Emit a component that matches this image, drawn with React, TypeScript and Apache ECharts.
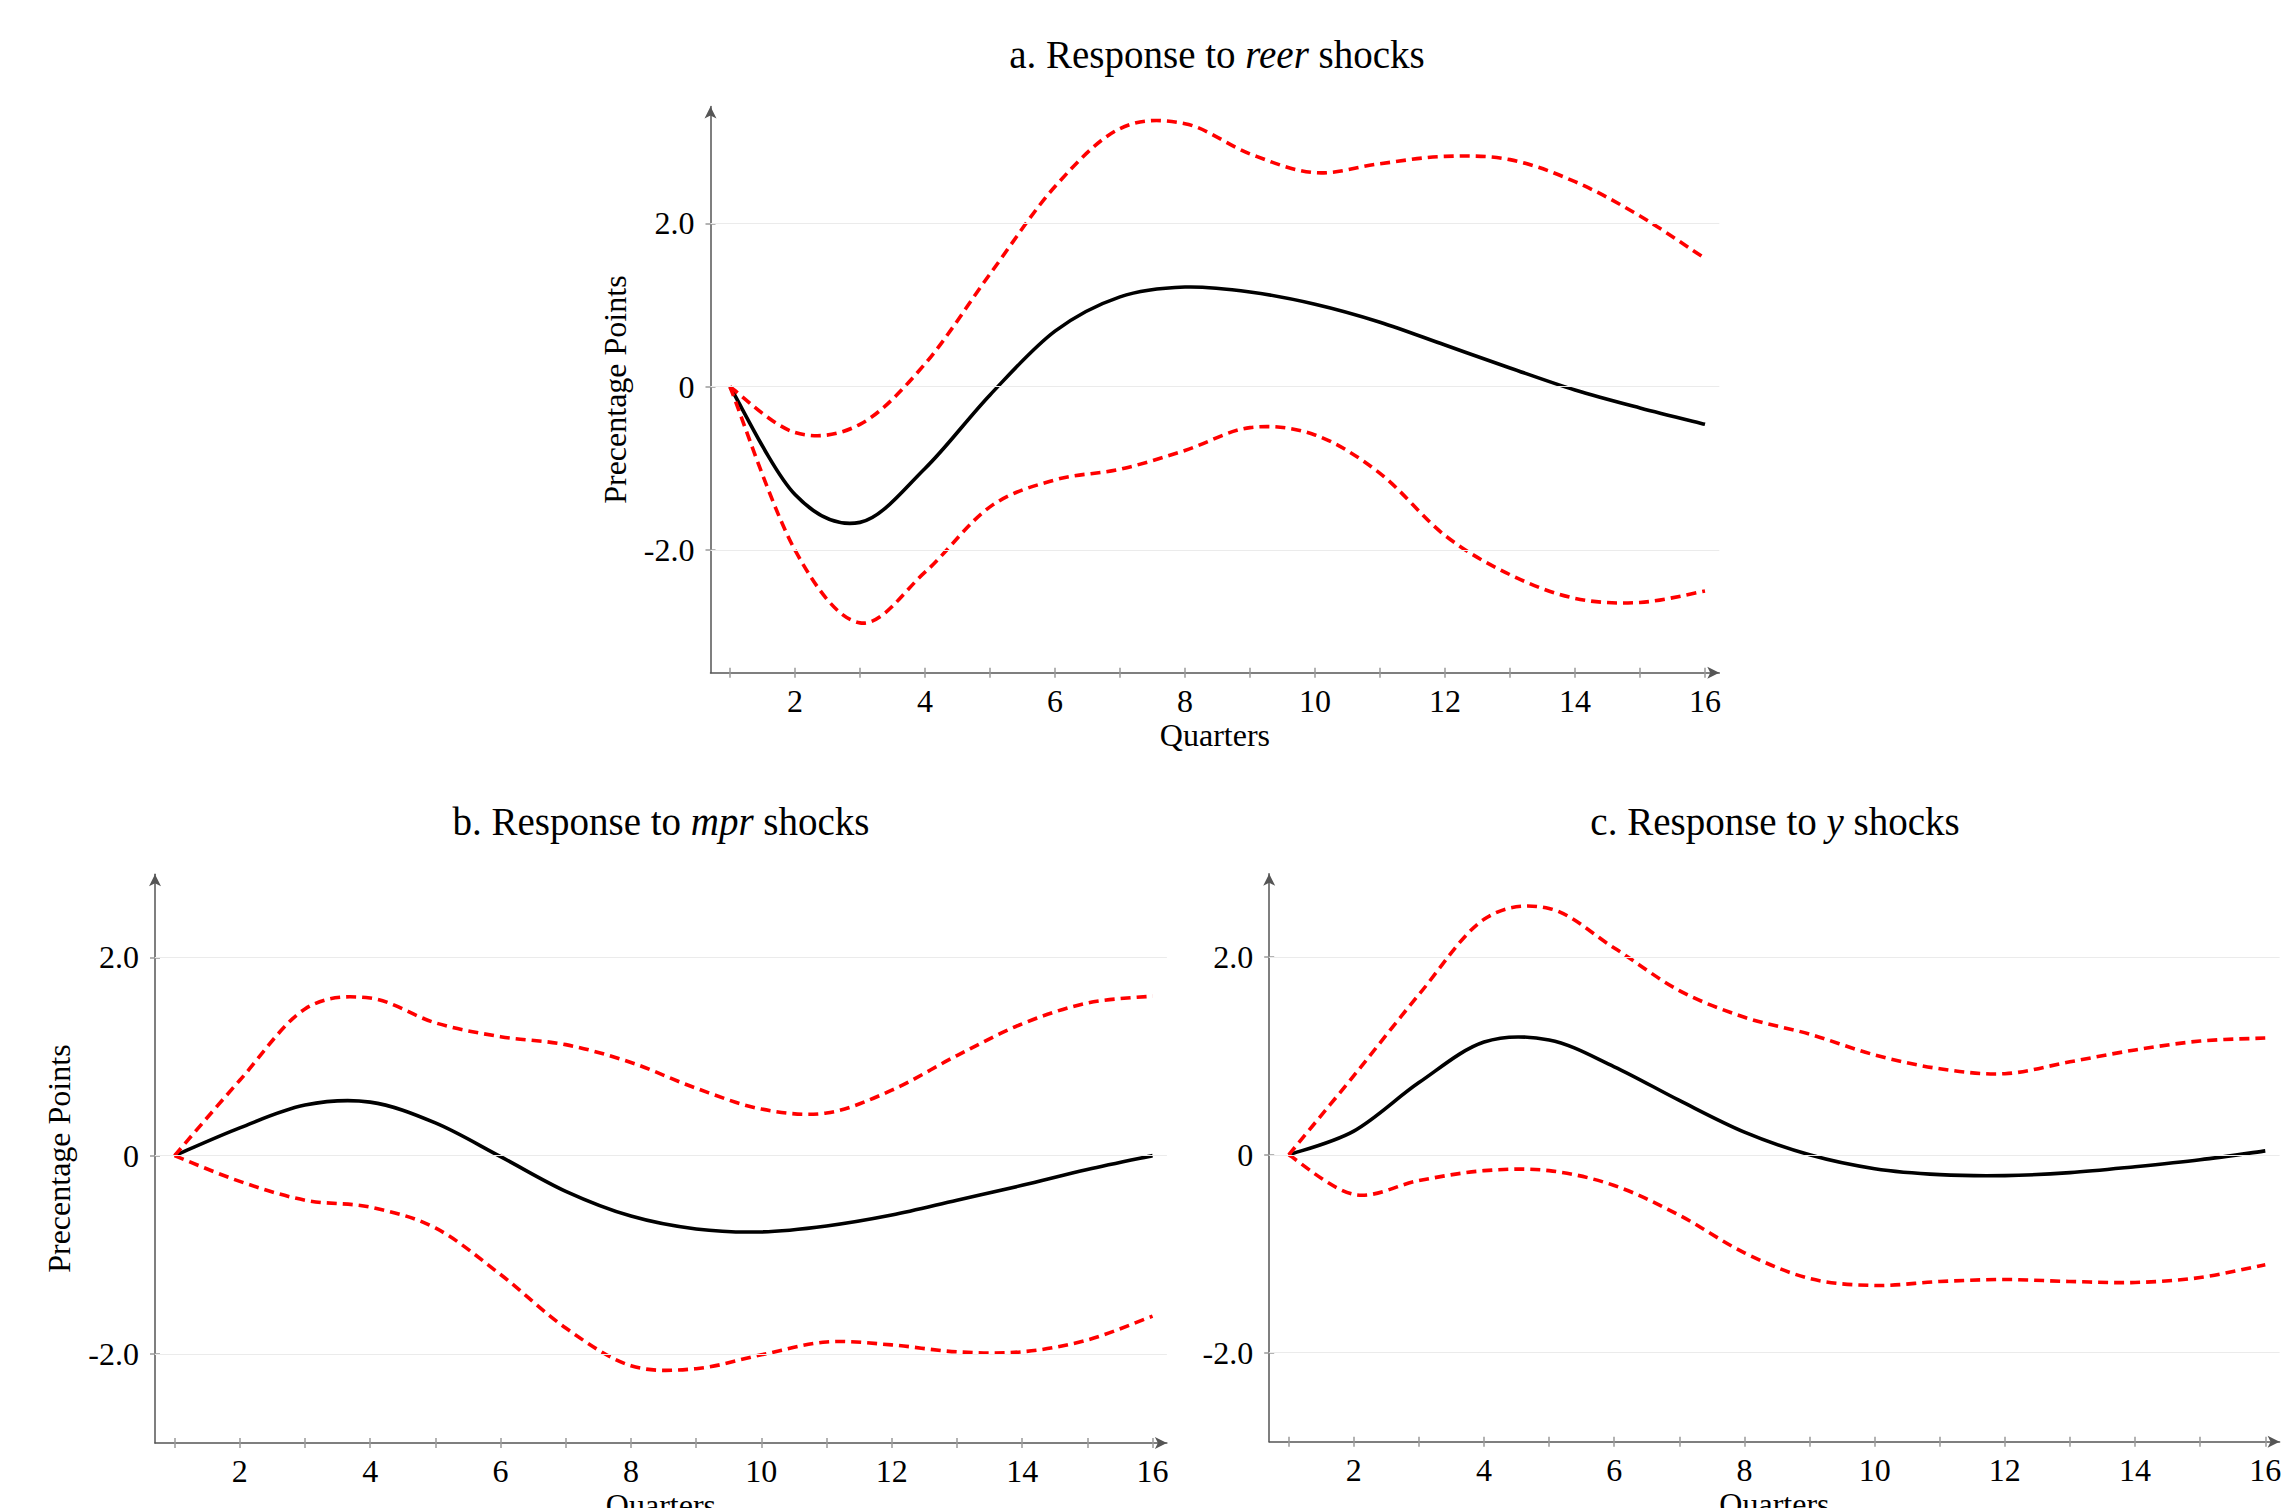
import React, { useEffect, useRef } from 'react';
import * as echarts from 'echarts';

// ---------- data ----------
const quarters = [1, 2, 3, 4, 5, 6, 7, 8, 9, 10, 11, 12, 13, 14, 15, 16];
const xLabelValues = [2, 4, 6, 8, 10, 12, 14, 16];
const yLabelValues = [-2, 0, 2];

// a. reer shocks
const reerIrf = [0, -1.32, -1.66, -1.0, -0.1, 0.68, 1.1, 1.22, 1.16, 1.01, 0.79, 0.51, 0.23, -0.04, -0.26, -0.46];
const reerUpper = [0, -0.56, -0.46, 0.28, 1.38, 2.45, 3.16, 3.22, 2.85, 2.62, 2.73, 2.82, 2.78, 2.51, 2.09, 1.57];
const reerLower = [0, -2.0, -2.89, -2.27, -1.47, -1.14, -1.01, -0.78, -0.5, -0.59, -1.06, -1.82, -2.3, -2.59, -2.64, -2.5];

// b. mpr shocks
const mprIrf = [0, 0.28, 0.51, 0.54, 0.33, -0.01, -0.36, -0.61, -0.74, -0.77, -0.71, -0.6, -0.45, -0.3, -0.14, 0.0];
const mprUpper = [0, 0.76, 1.48, 1.59, 1.34, 1.2, 1.12, 0.94, 0.68, 0.47, 0.43, 0.66, 1.01, 1.33, 1.54, 1.61];
const mprLower = [0, -0.26, -0.45, -0.52, -0.73, -1.2, -1.74, -2.12, -2.15, -2.01, -1.88, -1.91, -1.98, -1.98, -1.86, -1.62];

// c. y shocks
const yIrf = [0, 0.24, 0.73, 1.14, 1.16, 0.89, 0.55, 0.23, 0.0, -0.14, -0.2, -0.21, -0.18, -0.12, -0.05, 0.04];
const yUpper = [0, 0.8, 1.62, 2.38, 2.49, 2.09, 1.66, 1.39, 1.22, 1.01, 0.87, 0.82, 0.94, 1.06, 1.15, 1.18];
const yLower = [0, -0.4, -0.26, -0.16, -0.16, -0.31, -0.61, -0.99, -1.25, -1.32, -1.28, -1.26, -1.28, -1.29, -1.24, -1.11];

const FONT = "'Liberation Serif', 'DejaVu Serif', serif";

const pairs = (vals: number[]) => quarters.map((q, i) => [q, vals[i]]);

interface Panel {
  title: string;
  titleLeft: number;
  titleTop: number;
  grid: { left: number; top: number; width: number; height: number };
  yMin: number;
  yMax: number;
  yName: string;
  irf: number[];
  upper: number[];
  lower: number[];
}

const panels: Panel[] = [
  {
    title: 'a. Response to {i|reer} shocks',
    titleLeft: 1217,
    titleTop: 35,
    grid: { left: 710.5, top: 106.5, width: 1008.8, height: 566.2 },
    yMin: -3.5,
    yMax: 3.43,
    yName: 'Precentage Points',
    irf: reerIrf,
    upper: reerUpper,
    lower: reerLower,
  },
  {
    title: 'b. Response to {i|mpr} shocks',
    titleLeft: 661,
    titleTop: 802,
    grid: { left: 155, top: 874.2, width: 1011.9, height: 568.8 },
    yMin: -2.9,
    yMax: 2.84,
    yName: 'Precentage Points',
    irf: mprIrf,
    upper: mprUpper,
    lower: mprLower,
  },
  {
    title: 'c. Response to {i|y} shocks',
    titleLeft: 1775,
    titleTop: 802,
    grid: { left: 1269.2, top: 873.8, width: 1010.4, height: 568 },
    yMin: -2.9,
    yMax: 2.84,
    yName: '',
    irf: yIrf,
    upper: yUpper,
    lower: yLower,
  },
];

// Catmull-Rom style smooth curve through pixel points (like pgfplots "smooth")
function smoothPath(pts: number[][]): string {
  let d = `M${pts[0][0]},${pts[0][1]}`;
  for (let i = 0; i < pts.length - 1; i++) {
    const p0 = pts[i - 1] || pts[i];
    const p1 = pts[i];
    const p2 = pts[i + 1];
    const p3 = pts[i + 2] || pts[i + 1];
    const k = 1 / 6;
    const c1x = p1[0] + (p2[0] - p0[0]) * k;
    const c1y = p1[1] + (p2[1] - p0[1]) * k;
    const c2x = p2[0] - (p3[0] - p1[0]) * k;
    const c2y = p2[1] - (p3[1] - p1[1]) * k;
    d += ` C${c1x},${c1y} ${c2x},${c2y} ${p2[0]},${p2[1]}`;
  }
  return d;
}

function curveSeries(vals: number[], xi: number, yi: number, color: string, dash: number[] | null, z: number) {
  return {
    type: 'custom',
    xAxisIndex: xi,
    yAxisIndex: yi,
    data: pairs(vals),
    z,
    silent: true,
    renderItem: (params: any, api: any) => {
      if (params.dataIndex !== 0) return null;
      const pts = quarters.map((q, i) => api.coord([q, vals[i]]));
      return {
        type: 'path',
        shape: { pathData: smoothPath(pts) },
        style: {
          fill: 'none',
          stroke: color,
          lineWidth: 3.6,
          lineDash: dash || undefined,
          lineCap: 'butt',
          lineJoin: 'round',
        },
      };
    },
  };
}

function buildOption() {
  const title: any[] = [];
  const grid: any[] = [];
  const xAxis: any[] = [];
  const yAxis: any[] = [];
  const series: any[] = [];

  panels.forEach((p, gi) => {
    title.push({
      text: p.title,
      left: p.titleLeft,
      top: p.titleTop,
      textAlign: 'center',
      padding: 0,
      textStyle: {
        fontFamily: FONT,
        fontSize: 39,
        fontWeight: 'normal',
        color: '#000',
        rich: {
          i: { fontFamily: FONT, fontSize: 39, fontStyle: 'italic', color: '#000' },
        },
      },
    });
    grid.push({ ...p.grid, containLabel: false, outerBoundsMode: 'none' });

    const xBase = 2 * gi;
    const yBase = 2 * gi;
    // primary x axis
    xAxis.push({
      type: 'value',
      gridIndex: gi,
      position: 'bottom',
      min: 0.7,
      max: 16.22,
      name: 'Quarters',
      nameLocation: 'middle',
      nameGap: 46,
      nameTextStyle: { fontFamily: FONT, fontSize: 32, color: '#000' },
      axisLine: {
        show: true,
        onZero: false,
        symbol: ['none', 'arrow'],
        symbolSize: [9, 12],
        lineStyle: { color: '#555', width: 1.5 },
      },
      axisTick: {
        show: true,
        customValues: quarters,
        length: 5,
        inside: false,
        lineStyle: { color: '#9a9a9a', width: 1.5 },
      },
      axisLabel: {
        customValues: xLabelValues,
        margin: 12,
        fontFamily: FONT,
        fontSize: 32,
        color: '#000',
      },
      splitLine: { show: false },
    });
    // secondary x axis: inner half of crossing ticks
    xAxis.push({
      type: 'value',
      gridIndex: gi,
      position: 'bottom',
      min: 0.7,
      max: 16.22,
      axisLine: { show: false, onZero: false },
      axisTick: {
        show: true,
        customValues: quarters,
        length: 5,
        inside: true,
        lineStyle: { color: '#9a9a9a', width: 1.5 },
      },
      axisLabel: { show: false },
      splitLine: { show: false },
    });
    // primary y axis
    yAxis.push({
      type: 'value',
      gridIndex: gi,
      position: 'left',
      min: p.yMin,
      max: p.yMax,
      name: p.yName,
      nameLocation: 'middle',
      nameRotate: 90,
      nameGap: 80,
      nameTextStyle: { fontFamily: FONT, fontSize: 32, color: '#000' },
      axisLine: {
        show: true,
        onZero: false,
        symbol: ['none', 'arrow'],
        symbolSize: [9, 12],
        lineStyle: { color: '#555', width: 1.5 },
      },
      axisTick: {
        show: true,
        customValues: yLabelValues,
        length: 5,
        inside: false,
        lineStyle: { color: '#9a9a9a', width: 1.5 },
      },
      axisLabel: {
        customValues: yLabelValues,
        margin: 16,
        fontFamily: FONT,
        fontSize: 32,
        color: '#000',
        formatter: (v: number) => (v === 0 ? '0' : v.toFixed(1)),
      },
      splitLine: { show: false },
    });
    // secondary y axis: inner half of ticks
    yAxis.push({
      type: 'value',
      gridIndex: gi,
      position: 'left',
      min: p.yMin,
      max: p.yMax,
      axisLine: { show: false, onZero: false },
      axisTick: {
        show: true,
        customValues: yLabelValues,
        length: 5,
        inside: true,
        lineStyle: { color: '#9a9a9a', width: 1.5 },
      },
      axisLabel: { show: false },
      splitLine: { show: false },
    });

    // grid lines (invisible carrier series)
    series.push({
      type: 'line',
      xAxisIndex: xBase,
      yAxisIndex: yBase,
      data: pairs(p.irf),
      showSymbol: false,
      silent: true,
      z: 1,
      lineStyle: { opacity: 0 },
      markLine: {
        silent: true,
        symbol: ['none', 'none'],
        label: { show: false },
        lineStyle: { color: '#ebebeb', width: 1.2, type: 'solid' },
        data: yLabelValues.map((v) => ({ yAxis: v })),
      },
    });
    series.push(curveSeries(p.irf, xBase, yBase, '#000000', null, 3));
    series.push(curveSeries(p.upper, xBase, yBase, '#ff0000', [10, 6], 4));
    series.push(curveSeries(p.lower, xBase, yBase, '#ff0000', [10, 6], 4));
  });

  return {
    animation: false,
    backgroundColor: '#ffffff',
    title,
    grid,
    xAxis,
    yAxis,
    series,
  };
}

export default function App() {
  const ref = useRef<HTMLDivElement>(null);
  useEffect(() => {
    if (!ref.current) return;
    const chart = echarts.init(ref.current, undefined, { renderer: 'svg' });
    chart.setOption(buildOption() as any);
    return () => chart.dispose();
  }, []);
  return (
    <div
      ref={ref}
      style={{ position: 'absolute', left: 0, top: 0, width: 2286, height: 1508, background: '#fff' }}
    />
  );
}
